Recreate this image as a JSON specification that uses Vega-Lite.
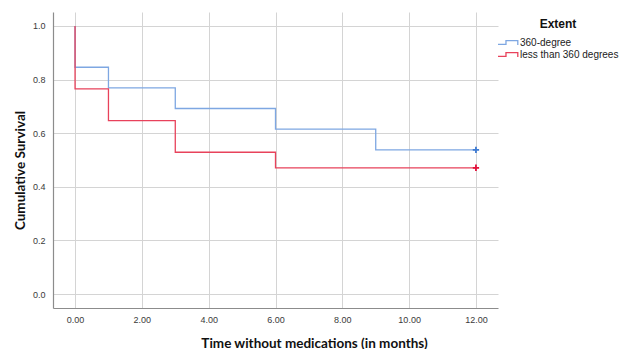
{
  "$schema": "https://vega.github.io/schema/vega-lite/v6.json",
  "width": 445,
  "height": 296,
  "autosize": "none",
  "padding": {"left": 53, "top": 12, "right": 122, "bottom": 41},
  "background": "white",
  "config": {
    "view": {"stroke": null},
    "axis": {
      "gridColor": "#d4d4d4",
      "gridWidth": 1,
      "gridOpacity": 1,
      "domainColor": "#8c8c8c",
      "domainWidth": 1.2,
      "ticks": false,
      "labelFont": "Liberation Sans",
      "labelFontSize": 9,
      "labelColor": "#3a3a3a",
      "titleFont": "Lato",
      "titleFontSize": 13.5,
      "titleFontWeight": "bold",
      "titleColor": "#111111"
    },
    "legend": {
      "titleFont": "Liberation Sans",
      "labelFont": "Liberation Sans"
    }
  },
  "datasets": {
    "km": [
      {"group": "360-degree", "time": 0, "surv": 1.0},
      {"group": "360-degree", "time": 0, "surv": 0.846},
      {"group": "360-degree", "time": 1, "surv": 0.769},
      {"group": "360-degree", "time": 3, "surv": 0.692},
      {"group": "360-degree", "time": 6, "surv": 0.615},
      {"group": "360-degree", "time": 9, "surv": 0.538},
      {"group": "360-degree", "time": 12, "surv": 0.538},
      {"group": "less than 360 degrees", "time": 0, "surv": 1.0},
      {"group": "less than 360 degrees", "time": 0, "surv": 0.765},
      {"group": "less than 360 degrees", "time": 1, "surv": 0.647},
      {"group": "less than 360 degrees", "time": 3, "surv": 0.529},
      {"group": "less than 360 degrees", "time": 6, "surv": 0.471},
      {"group": "less than 360 degrees", "time": 12, "surv": 0.471}
    ],
    "censor": [
      {"group": "360-degree", "time": 12, "surv": 0.538},
      {"group": "less than 360 degrees", "time": 12, "surv": 0.471}
    ]
  },
  "layer": [
    {
      "data": {"name": "km"},
      "mark": {"type": "line", "interpolate": "step-after", "strokeWidth": 1.3},
      "encoding": {
        "x": {
          "field": "time", "type": "quantitative",
          "scale": {"domain": [-0.66, 12.66], "nice": false, "zero": false},
          "axis": {
            "values": [0, 2, 4, 6, 8, 10, 12],
            "format": ".2f",
            "labelPadding": 7,
            "title": "Time without medications (in months)",
            "titleX": 261,
            "titleY": 35,
            "titleBaseline": "middle"
          }
        },
        "y": {
          "field": "surv", "type": "quantitative",
          "scale": {"domain": [-0.052, 1.052], "nice": false, "zero": false},
          "axis": {
            "values": [0, 0.2, 0.4, 0.6, 0.8, 1.0],
            "format": ".1f",
            "labelPadding": 8,
            "title": "Cumulative Survival",
            "titleX": -33,
            "titleY": 158,
            "titleBaseline": "middle"
          }
        },
        "color": {
          "field": "group", "type": "nominal",
          "scale": {"domain": ["360-degree", "less than 360 degrees"], "range": ["#7ea7e2", "#e8425b"]},
          "legend": {
            "title": "Extent",
            "orient": "none",
            "legendX": 444,
            "legendY": 7,
            "titleFontSize": 12,
            "titleFontWeight": "bold",
            "titleColor": "#111111",
            "titleAnchor": "middle",
            "titlePadding": 5,
            "labelFontSize": 10,
            "labelColor": "#222222",
            "labelOffset": 10,
            "rowPadding": 0,
            "symbolType": "M-1,0.35 L0.45,0.35 L0.45,-0.35 L2.6,-0.35 L2.6,0.45",
            "symbolSize": 121,
            "symbolStrokeWidth": 1.3
          }
        }
      }
    },
    {
      "data": {"name": "censor"},
      "mark": {"type": "point", "shape": "M-1,0 L1,0 M0,-1 L0,1", "filled": false, "size": 40, "strokeWidth": 1.8, "opacity": 1},
      "encoding": {
        "x": {"field": "time", "type": "quantitative"},
        "y": {"field": "surv", "type": "quantitative"},
        "stroke": {
          "field": "group", "type": "nominal",
          "scale": {"domain": ["360-degree", "less than 360 degrees"], "range": ["#3f7bd2", "#e2103a"]},
          "legend": null
        }
      }
    }
  ]
}
